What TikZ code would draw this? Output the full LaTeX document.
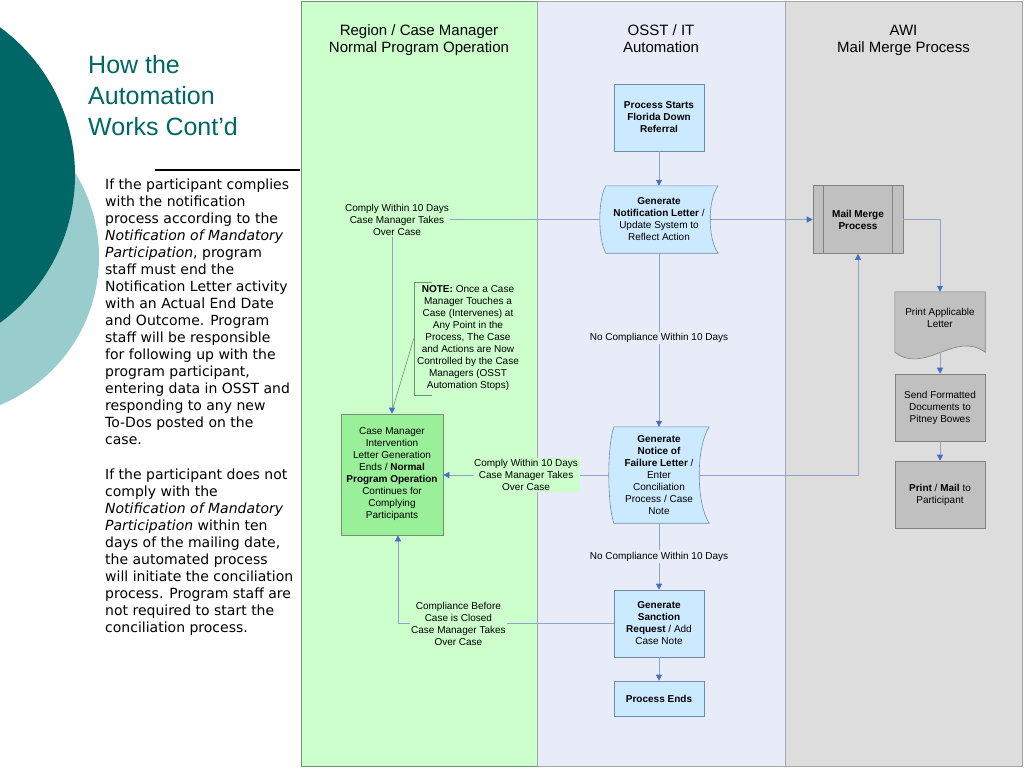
\documentclass[tikz,border=0pt]{standalone}
\usepackage{fontspec}
\setmainfont{Liberation Sans}
\newfontfamily\bodyfont{DejaVu Sans}
\usetikzlibrary{arrows.meta,calc}

\definecolor{darkteal}{RGB}{0,102,102}
\definecolor{paleteal}{RGB}{153,204,204}
\definecolor{lanegreen}{RGB}{204,255,204}
\definecolor{laneblue}{RGB}{232,236,248}
\definecolor{lanegray}{RGB}{221,221,221}
\definecolor{boxblue}{RGB}{204,234,255}
\definecolor{boxgreen}{RGB}{153,240,153}
\definecolor{boxgray}{RGB}{192,192,192}
\definecolor{edgeblue}{RGB}{110,140,170}
\definecolor{edgegreen}{RGB}{110,150,110}
\definecolor{edgegray}{RGB}{130,130,130}
\definecolor{linecol}{RGB}{145,163,200}
\definecolor{tipcol}{RGB}{70,110,200}

\pgfdeclarelayer{back}
\pgfdeclarelayer{shapes}
\pgfsetlayers{back,shapes,main}

\tikzset{
  hdr/.style={font=\fontsize{15}{17}\selectfont, align=center, anchor=north, inner sep=0pt},
  txt/.style={align=center, inner sep=1pt, font=\fontsize{10}{12}\selectfont},
  lbl/.style={txt, inner sep=1.5pt},
  box/.style={txt, draw=edgeblue, fill=boxblue, line width=0.6pt, minimum width=90pt, minimum height=67pt},
  grbox/.style={box, draw=edgegray, fill=boxgray},
  flow/.style={draw=linecol, line width=0.6pt, -{Triangle[width=6pt,length=6pt,color=tipcol]}},
  notestroke/.style={draw=edgegreen, line width=0.6pt}
}

\begin{document}
\begin{tikzpicture}[x=1pt, y=-1pt]
    \useasboundingbox (0,0) rectangle (1024,768);

    \begin{pgfonlayer}{back}
        \fill[white] (0,0) rectangle (1024,768);
        \fill[paleteal] (-61,257) circle (160pt);
        \fill[darkteal] (-108,175) circle (183pt);
        \filldraw[fill=lanegreen, draw=edgegreen, line width=0.6pt] (301,1) rectangle (537,766);
        \filldraw[fill=laneblue, draw=gray!70, line width=0.6pt] (537,1) rectangle (785,766);
        \filldraw[fill=lanegray, draw=gray!70, line width=0.6pt] (785,1) rectangle (1022,766);
    \end{pgfonlayer}

    \node[anchor=north west, inner sep=0pt, align=left, text=darkteal, font=\fontsize{25}{31}\selectfont] (title) at (88,55) {How the\\Automation\\Works Cont’d};
    \draw[line width=1.2pt] (155,170) -- (300,170);
    \node[anchor=north west, inner sep=0pt, align=left, font=\bodyfont\fontsize{14}{17}\selectfont] (body) at (105,179) {If the participant complies\\
with the notification\\
process according to the\\
\textit{Notification of Mandatory}\\
\textit{Participation}, program\\
staff must end the\\
Notification Letter activity\\
with an Actual End Date\\
and Outcome. Program\\
staff will be responsible\\
for following up with the\\
program participant,\\
entering data in OSST and\\
responding to any new\\
To-Dos posted on the\\
case.\\[18pt]
If the participant does not\\
comply with the\\
\textit{Notification of Mandatory}\\
\textit{Participation} within ten\\
days of the mailing date,\\
the automated process\\
will initiate the conciliation\\
process. Program staff are\\
not required to start the\\
conciliation process.};

    \node[hdr] (hreg) at (419,24.5) {Region / Case Manager\\Normal Program Operation};
    \node[hdr] (hosst) at (661,24.5) {OSST / IT\\Automation};
    \node[hdr] (hawi) at (903.5,24.5) {AWI\\Mail Merge Process};

    \node[box] (start) at (659,117.5) {\textbf{Process Starts}\\\textbf{Florida Down}\\\textbf{Referral}};
    \node[txt, minimum width=118pt, minimum height=67pt] (notif) at (659,219.5) {\textbf{Generate}\\\textbf{Notification Letter} /\\Update System to\\Reflect Action};
    \node[txt, minimum width=100pt, minimum height=96pt] (fail) at (659,475) {\textbf{Generate}\\\textbf{Notice of}\\\textbf{Failure Letter} /\\Enter\\Conciliation\\Process / Case\\Note};
    \node[box] (sanct) at (659,623.5) {\textbf{Generate}\\\textbf{Sanction}\\\textbf{Request} / Add\\Case Note};
    \node[box, minimum height=35pt] (stop) at (659,698.5) {\textbf{Process Ends}};

    \node[box, draw=edgegreen, fill=boxgreen, minimum width=102pt, minimum height=121pt] (cm) at (392,474.5) {Case Manager\\Intervention\\Letter Generation\\Ends / \textbf{Normal}\\\textbf{Program Operation}\\Continues for\\Complying\\Participants};
    \node[txt, minimum width=108pt, minimum height=113pt] (note) at (468,338.5) {\textbf{NOTE:} Once a Case\\Manager Touches a\\Case (Intervenes) at\\Any Point in the\\Process, The Case\\and Actions are Now\\Controlled by the Case\\Managers (OSST\\Automation Stops)};

    \node[grbox, minimum height=68pt] (merge) at (858,219.5) {\textbf{Mail Merge}\\\textbf{Process}};
    \node[txt, minimum width=90pt, minimum height=52pt] (prtlet) at (940,318) {Print Applicable\\Letter};
    \node[grbox] (send) at (940,407.5) {Send Formatted\\Documents to\\Pitney Bowes};
    \node[grbox] (mail) at (940,494.5) {\textbf{Print} / \textbf{Mail} to\\Participant};

    \begin{pgfonlayer}{shapes}
        \filldraw[draw=edgeblue, fill=boxblue, line width=0.6pt] ($(notif.north west)+(6,0)$) -- (notif.north east)
            .. controls ($(notif.north east)+(-10.7,14)$) and ($(notif.south east)+(-10.7,-14)$) .. (notif.south east)
            -- ($(notif.south west)+(6,0)$)
            .. controls ($(notif.south west)+(-2,-14)$) and ($(notif.north west)+(-2,14)$) .. cycle;
        \filldraw[draw=edgeblue, fill=boxblue, line width=0.6pt] ($(fail.north west)+(5,0)$) -- (fail.north east)
            .. controls ($(fail.north east)+(-13.3,20)$) and ($(fail.south east)+(-13.3,-20)$) .. (fail.south east)
            -- ($(fail.south west)+(5,0)$)
            .. controls ($(fail.south west)+(-1.7,-20)$) and ($(fail.north west)+(-1.7,20)$) .. cycle;
        \filldraw[draw=edgegray, fill=boxgray, line width=0.6pt] (prtlet.north west) -- (prtlet.north east) -- ($(prtlet.south east)+(0,8)$)
            .. controls ($(prtlet.south east)+(-30,-14)$) and ($(prtlet.south west)+(30,31)$) .. ($(prtlet.south west)+(0,8)$) -- cycle;
    \end{pgfonlayer}
    \draw[draw=edgegray, line width=0.6pt] ([xshift=11pt]merge.north west) -- ([xshift=11pt]merge.south west)
        ([xshift=-11pt]merge.north east) -- ([xshift=-11pt]merge.south east);

    \path[flow] (start) edge (notif);
    \path[flow] (notif) edge node[lbl, fill=laneblue, pos=0.49] {No Compliance Within 10 Days} (fail);
    \path[flow] (fail) edge node[lbl, fill=laneblue] {No Compliance Within 10 Days} (sanct);
    \path[flow] (sanct) edge (stop);
    \draw[flow] (notif.west) -| node[lbl, fill=lanegreen, pos=0.5, xshift=5pt] {Comply Within 10 Days\\Case Manager Takes\\Over Case} (cm.north);
    \draw[flow] (fail.west) -- node[lbl, fill=lanegreen] {Comply Within 10 Days\\Case Manager Takes\\Over Case} (fail.west -| cm.east);
    \draw[flow] (sanct.west) -| node[lbl, fill=lanegreen, pos=0.36] {Compliance Before\\Case is Closed\\Case Manager Takes\\Over Case} ([xshift=6pt]cm.south);
    \draw[flow] ([xshift=-8pt]notif.east) -- (merge.west);
    \draw[flow] ([xshift=-10pt]fail.east) -| (merge.south);
    \draw[flow] (merge.east) -| (prtlet.north);
    \draw[flow] ([yshift=-8pt]prtlet.south) -- (send.north);
    \path[flow] (send) edge (mail);

    \draw[notestroke] ([xshift=18pt]note.north west) -- (note.north west) -- (note.south west) -- ([xshift=18pt]note.south west);
    \draw[notestroke] (note.west) -- ([shift={(1pt,6pt)}]cm.north);

\end{tikzpicture}
\end{document}
